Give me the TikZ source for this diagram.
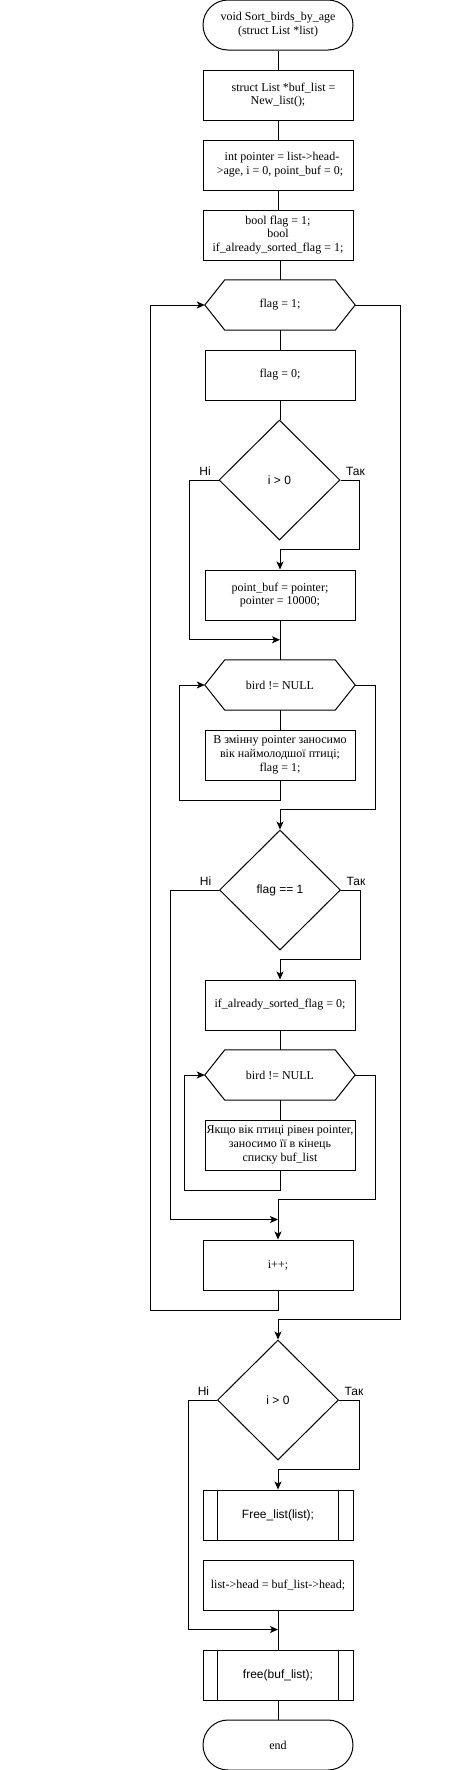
\documentclass[tikz,border=0pt]{standalone}
\usepackage{fontspec}
\setmainfont{Liberation Serif}
\newfontfamily\arialf{Liberation Sans}
\usetikzlibrary{shapes.geometric,arrows.meta,calc}
\tikzset{
  lnw/.style={line width=1pt, draw=black},
  proc/.style={lnw, rectangle, minimum width=150pt, minimum height=50pt, inner sep=1pt, align=center, font=\fontsize{12pt}{13.8pt}\selectfont},
  sproc/.style={proc, font=\arialf\fontsize{12pt}{13.8pt}\selectfont},
  term/.style={proc, rounded corners=25pt},
  hexn/.style={rectangle, draw=none, minimum width=150pt, minimum height=50pt, inner sep=0pt, align=center, font=\fontsize{12pt}{13.8pt}\selectfont},
  dec/.style={lnw, diamond, minimum width=121pt, minimum height=120pt, inner sep=0pt, font=\arialf\fontsize{12pt}{13.8pt}\selectfont},
  lbl/.style={inner sep=0pt, font=\arialf\fontsize{12pt}{13.8pt}\selectfont},
  conn/.style={lnw},
  arrc/.style={lnw, -{Stealth[length=8pt,width=7pt,inset=2pt]}}
}
\newcommand\hexdraw[1]{\draw[lnw] (#1.west) -- ([xshift=20pt]#1.north west) -- ([xshift=-20pt]#1.north east) -- (#1.east) -- ([xshift=-20pt]#1.south east) -- ([xshift=20pt]#1.south west) -- cycle;}
\newcommand\subbars[1]{\draw[lnw] ([xshift=15pt]#1.north west) -- ([xshift=15pt]#1.south west); \draw[lnw] ([xshift=-15pt]#1.north east) -- ([xshift=-15pt]#1.south east);}
\begin{document}
\begin{tikzpicture}[x=1pt,y=-1pt]
\useasboundingbox (0,0) rectangle (471,1770);
% nodes
\node[term] (start) at (278,25) {void Sort\_birds\_by\_age\\(struct List *list)};
\node[proc] (b1) at (278,95) {\hspace*{11pt}struct List *buf\_list =\\New\_list();};
\node[proc] (b2) at (278,165) {\hspace*{8pt}int pointer = list->head-\\\hspace*{4pt}>age, i = 0, point\_buf = 0;};
\node[proc] (b3) at (278,235) {bool flag = 1;\\bool\\if\_already\_sorted\_flag = 1;};
\node[hexn] (h1) at (280,305) {flag = 1;};
\hexdraw{h1}
\node[proc] (b4) at (280,375) {flag = 0;};
\node[dec] (d1) at (279.5,480) {i > 0};
\node[lbl] (l1n) at ([xshift=-13.5pt,yshift=9pt]d1.west) {Ні};
\node[lbl] (l1y) at ([xshift=15pt,yshift=9pt]d1.east) {Так};
\node[proc] (b5) at (280,595) {point\_buf = pointer;\\pointer = 10000;};
\node[hexn] (h2) at (280,685) {bird != NULL};
\hexdraw{h2}
\node[proc] (b6) at (280,755) {В змінну pointer заносимо\\вік наймолодшої птиці;\\flag = 1;};
\node[dec] (d2) at (280,890) {flag == 1};
\node[lbl] (l2n) at ([xshift=-13.5pt,yshift=9pt]d2.west) {Ні};
\node[lbl] (l2y) at ([xshift=15pt,yshift=9pt]d2.east) {Так};
\node[proc] (b7) at (280,1005) {if\_already\_sorted\_flag = 0;};
\node[hexn] (h3) at (280,1075) {bird != NULL};
\hexdraw{h3}
\node[proc] (b8) at (280,1145) {Якщо вік птиці рівен pointer,\\заносимо її в кінець\\списку buf\_list};
\node[proc] (b9) at (278,1265) {i++;};
\node[dec] (d3) at (278,1400) {i > 0};
\node[lbl] (l3n) at ([xshift=-13.5pt,yshift=9pt]d3.west) {Ні};
\node[lbl] (l3y) at ([xshift=15pt,yshift=9pt]d3.east) {Так};
\node[sproc] (f1) at (278,1515) {Free\_list(list);};
\subbars{f1}
\node[proc] (b10) at (278,1585) {list->head = buf\_list->head;};
\node[sproc] (f2) at (278,1675) {free(buf\_list);};
\subbars{f2}
\node[term] (end) at (278,1745) {end};
% merge points
\coordinate (m1) at ([yshift=20pt]h2.north);
\coordinate (m2) at ([yshift=20pt]b9.north);
\coordinate (m3) at ([yshift=20pt]f2.north);
% connectors
\draw[conn] (start.south) -- (b1.north);
\draw[conn] (b1.south) -- (b2.north);
\draw[conn] (b2.south) -- (b3.north);
\draw[conn] (h1.north) -- (h1.north |- b3.south);
\draw[conn] (h1.south) -- (b4.north);
\draw[conn] (b4.south) -- (b4.south |- d1.north);
\draw[arrc] (d1.west) -- ++(-29,0) |- (m1);
\draw[arrc] (d1.east) -- ++(19,0) |- ([yshift=20pt]b5.north) -- (b5.north);
\draw[conn] (b5.south) -- (h2.north);
\draw[conn] (h2.south) -- (b6.north);
\draw[arrc] (b6.south) -- ++(0,20) -| ([xshift=-25pt]h2.west) -- (h2.west);
\draw[arrc] (h2.east) -- ++(20.7,0) |- ([yshift=20pt]d2.north) -- (d2.north);
\draw[arrc] (d2.west) -- ++(-48.3,0) |- (m2);
\draw[arrc] (d2.east) -- ++(19,0) |- ([yshift=20pt]b7.north) -- (b7.north);
\draw[conn] (b7.south) -- (h3.north);
\draw[conn] (h3.south) -- (b8.north);
\draw[arrc] (b8.south) -- ++(0,20) -| ([xshift=-20pt]h3.west) -- (h3.west);
\draw[arrc] (h3.east) -- ++(20.7,0) |- ([yshift=40pt]b9.north) -- (b9.north);
\draw[arrc] (b9.south) -- ++(0,20) -| ([xshift=-54.3pt]h1.west) -- (h1.west);
\draw[arrc] (h1.east) -- ++(45,0) |- ([yshift=20pt]d3.north) -- (d3.north);
\draw[arrc] (d3.west) -- ++(-28.7,0) |- (m3);
\draw[arrc] (d3.east) -- ++(20,0) |- ([yshift=20pt]f1.north) -- (f1.north);
\draw[conn] (b10.south) -- (f2.north);
\draw[conn] (f2.south) -- (end.north);
\end{tikzpicture}
\end{document}
